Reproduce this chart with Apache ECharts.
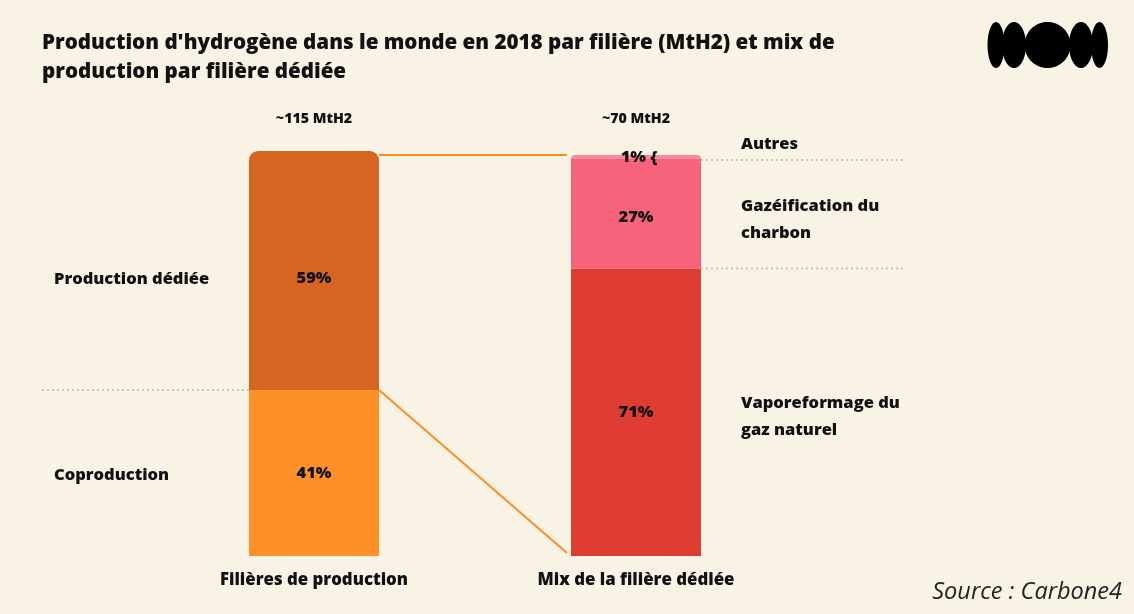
<!DOCTYPE html>
<html>
<head>
<meta charset="utf-8">
<script src="https://cdn.jsdelivr.net/npm/echarts@6/dist/echarts.min.js"></script>
<style>
html,body{margin:0;padding:0;background:#F9F3E6;}
#c{width:1134px;height:614px;}
</style>
</head>
<body>
<div id="c"></div>
<script>
const categories = ['Filières de production', 'Mix de la filière dédiée'];
const totals = ['~115 MtH2', '~70 MtH2'];
const coproduction = [41, '-'];
const productionDediee = [59, '-'];
const vaporeformage = ['-', 71];
const gazeification = ['-', 27];
const autres = ['-', 1];
const leftLabels = ['Production dédiée', 'Coproduction'];
const rightLabels = ['Autres', 'Gazéification du\ncharbon', 'Vaporeformage du\ngaz naturel'];

const FONT = '"Open Sans", "Noto Sans", sans-serif';
const W = 800;
const chart = echarts.init(document.getElementById('c'));
const lbl = (fmt, extra) => Object.assign({
  show: true, position: 'inside', formatter: fmt,
  color: '#111', fontFamily: FONT, fontWeight: W, fontSize: 16.5
}, extra || {});

chart.setOption({
  backgroundColor: '#F9F3E6',
  animation: false,
  title: {
    text: "Production d'hydrogène dans le monde en 2018 par filière (MtH2) et mix de\nproduction par filière dédiée",
    left: 37, top: 24,
    textStyle: {fontFamily: FONT, fontWeight: W, fontSize: 20.6, color: '#111', lineHeight: 29}
  },
  grid: {left: 153, right: 337, top: 151, bottom: 58},
  xAxis: [{
    type: 'category', data: categories,
    axisLine: {show: false}, axisTick: {show: false},
    axisLabel: {margin: 16, color: '#111', fontFamily: FONT, fontWeight: W, fontSize: 16.8}
  }, {
    type: 'category', data: totals, position: 'top',
    axisLine: {show: false}, axisTick: {show: false},
    axisLabel: {margin: 25, color: '#111', fontFamily: FONT, fontWeight: W, fontSize: 14.2}
  }],
  yAxis: {type: 'value', min: 0, max: 100, show: false, splitLine: {show: false}},
  series: [
    {name: 'Coproduction', type: 'bar', stack: 's', barWidth: 130, data: coproduction,
      itemStyle: {color: '#FE9028'}, label: lbl('{c}%')},
    {name: 'Production dédiée', type: 'bar', stack: 's', barWidth: 130, data: productionDediee,
      itemStyle: {color: '#D66521', borderRadius: [9, 9, 0, 0]}, label: lbl('{c}%', {offset: [0, 8]})},
    {name: 'Vaporeformage', type: 'bar', stack: 's', barWidth: 130, data: vaporeformage,
      itemStyle: {color: '#DF3C34'}, label: lbl('{c}%')},
    {name: 'Gazéification', type: 'bar', stack: 's', barWidth: 130, data: gazeification,
      itemStyle: {color: '#F7637A'}, label: lbl('{c}%', {offset: [0, 4]})},
    {name: 'Autres', type: 'bar', stack: 's', barWidth: 130, data: autres,
      itemStyle: {color: '#FA8A9B', borderRadius: [8, 8, 0, 0]}, label: lbl('{c}% {', {offset: [3, 0]})}
  ]
});

const p = (i, v) => chart.convertToPixel({gridIndex: 0}, [i, v]);
const half = 65;
const x1r = p(0, 0)[0] + half, x1l = p(0, 0)[0] - half;
const x2l = p(1, 0)[0] - half, x2r = p(1, 0)[0] + half;
const y = v => p(0, v)[1];
const lineOrange = {stroke: '#FF8C22', lineWidth: 2};
const dots = {stroke: '#C9C6C0', lineWidth: 2, lineDash: [2, 3]};
function text(t, x, yy) {
  return {type: 'text', x: x, y: yy,
    style: {text: t, fill: '#111', font: W + ' 16.5px ' + FONT, lineHeight: 27,
      verticalAlign: 'middle', align: 'left'}};
}
chart.setOption({
  graphic: [
    {type: 'line', shape: {x1: x1r, y1: y(99), x2: x2l - 4, y2: y(99)}, style: lineOrange},
    {type: 'line', shape: {x1: x1r, y1: y(41), x2: x2l - 4, y2: y(0) - 3}, style: lineOrange},
    {type: 'line', shape: {x1: 42, y1: y(41), x2: x1l, y2: y(41)}, style: dots},
    {type: 'line', shape: {x1: x2r, y1: y(98) + 1, x2: 906, y2: y(98) + 1}, style: dots},
    {type: 'line', shape: {x1: x2r, y1: y(71), x2: 906, y2: y(71)}, style: dots},
    text(leftLabels[0], 54, y(70.5) + 9),
    text(leftLabels[1], 54, y(20.5) + 2),
    text(rightLabels[0], 741, y(98) - 15),
    text(rightLabels[1], 741, y(84.5) + 6),
    text(rightLabels[2], 741, y(35.5) + 5),
    {type: 'text', right: 12, top: 581,
      style: {text: 'Source : Carbone4', fill: '#222', font: 'italic 23.5px ' + FONT}},
    {type: 'ellipse', shape: {cx: 996, cy: 45, rx: 8.5, ry: 23}, style: {fill: '#000'}},
    {type: 'ellipse', shape: {cx: 1014, cy: 45, rx: 12, ry: 23}, style: {fill: '#000'}},
    {type: 'ellipse', shape: {cx: 1047.5, cy: 45, rx: 23, ry: 23}, style: {fill: '#000'}},
    {type: 'ellipse', shape: {cx: 1081, cy: 45, rx: 12, ry: 23}, style: {fill: '#000'}},
    {type: 'ellipse', shape: {cx: 1099.5, cy: 45, rx: 8.5, ry: 23}, style: {fill: '#000'}}
  ]
});
</script>
</body>
</html>
